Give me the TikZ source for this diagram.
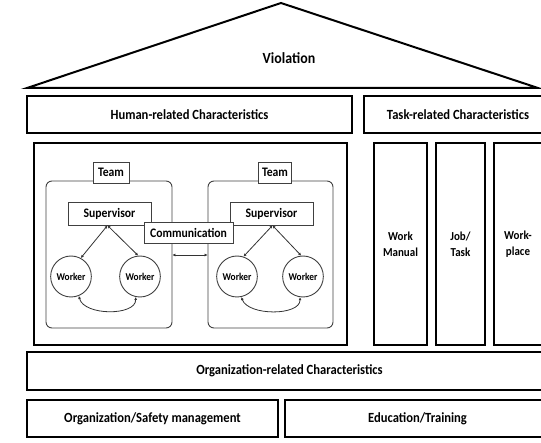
\documentclass[tikz,border=0pt]{standalone}
\usepackage{fontspec}
\setmainfont{Carlito}[FakeStretch=0.9]
\usetikzlibrary{shapes.geometric,arrows.meta}

\begin{document}
\begin{tikzpicture}[x=1pt,y=-1pt,font=\bfseries,
  frame/.style={draw=black,line width=2.3pt,inner sep=0pt,font=\fontsize{14}{16}\selectfont\bfseries},
  column/.style={frame,minimum height=202pt,align=center,font=\fontsize{12.2}{16}\selectfont\bfseries},
  teambox/.style={draw=black!75,line width=0.9pt,rounded corners=6pt,minimum width=126pt,minimum height=147pt,inner sep=0pt},
  tag/.style={draw=black!75,line width=0.9pt,fill=white,inner sep=0pt,font=\fontsize{13}{15}\selectfont\bfseries},
  worker/.style={ellipse,draw=black!75,line width=0.9pt,inner sep=0pt,minimum width=33pt,minimum height=41pt,font=\fontsize{10.4}{12}\selectfont\bfseries},
  link/.style={draw=black!80,line width=0.8pt,{Latex[length=3pt,width=3pt]}-{Latex[length=3pt,width=3pt]}}
]
\useasboundingbox (0,0) rectangle (541,443);
\clip (0,0) rectangle (541,443);

% roof
\coordinate (apex) at (281,3);
\coordinate (roofL) at (27,88);
\coordinate (roofR) at (538,88);
\draw[line width=2pt,line join=miter] (roofL) -- (apex) -- (roofR) -- cycle;
\node (viol) at (289,58) {\fontsize{15.5}{18}\selectfont Violation};

% characteristic bars
\node[frame,minimum width=325pt,minimum height=37pt] (human) at (189.5,114.5) {Human-related Characteristics};
\node[frame,minimum width=188pt,minimum height=37pt] (task) at (458,114.5) {Task-related Characteristics};

% human side
\node[frame,minimum width=313pt,minimum height=202pt] (hbox) at (190.5,244) {};

% task columns
\node[column,minimum width=53pt] (manual) at (400.5,244) {Work\\Manual};
\node[column,minimum width=49pt] (job) at (460.5,244) {Job/\\Task};
\node[column,minimum width=48pt] (place) at (518,244) {Work-\\place};

% organization
\node[frame,minimum width=525pt,minimum height=38pt] (org) at (289.5,371) {Organization-related Characteristics};
\node[frame,minimum width=251pt,minimum height=37pt] (safety) at (152.5,418.5) {Organization/Safety management};
\node[frame,minimum width=265pt,minimum height=37pt] (edu) at (417.5,418.5) {Education/Training};

% teams
\node[teambox] (teamL) at (109,254.5) {};
\node[teambox,minimum width=125pt] (teamR) at (270.5,254.5) {};
\node[tag,minimum width=36pt,minimum height=21pt] (tagL) at (111,172.5) {Team};
\node[tag,minimum width=33pt,minimum height=21pt] (tagR) at (275,172.5) {Team};

\node[tag,minimum width=83pt,minimum height=23pt] (supL) at (109.5,213.5) {Supervisor};
\node[tag,minimum width=83pt,minimum height=23pt] (supR) at (271.5,213.5) {Supervisor};
\node[tag,minimum width=89pt,minimum height=21pt] (comm) at (188.5,232.5) {Communication};

\node[worker] (wL1) at (71,276.5) {Worker};
\node[worker] (wL2) at (140,276.5) {Worker};
\node[worker] (wR1) at (237,276.5) {Worker};
\node[worker] (wR2) at (303,276.5) {Worker};

% supervisor-worker links
\coordinate (sL) at ([xshift=-2pt]supL.south);
\coordinate (sR) at ([xshift=1pt]supR.south);
\draw[link] (sL) -- (wL1.62);
\draw[link] (sL) -- (wL2.95);
\draw[link] (sR) -- (wR1.72);
\draw[link] (sR) -- (wR2.95);

% worker-worker links
\draw[link] (wL1.292) .. controls (84,316) and (136,316) .. (wL2.258);
\draw[link] (wR1.282) .. controls (248,316) and (300,316) .. (wR2.262);

% communication between teams
\coordinate (cy) at (190,255);
\draw[link] (teamL.east |- cy) -- (teamR.west |- cy);
\end{tikzpicture}
\end{document}
